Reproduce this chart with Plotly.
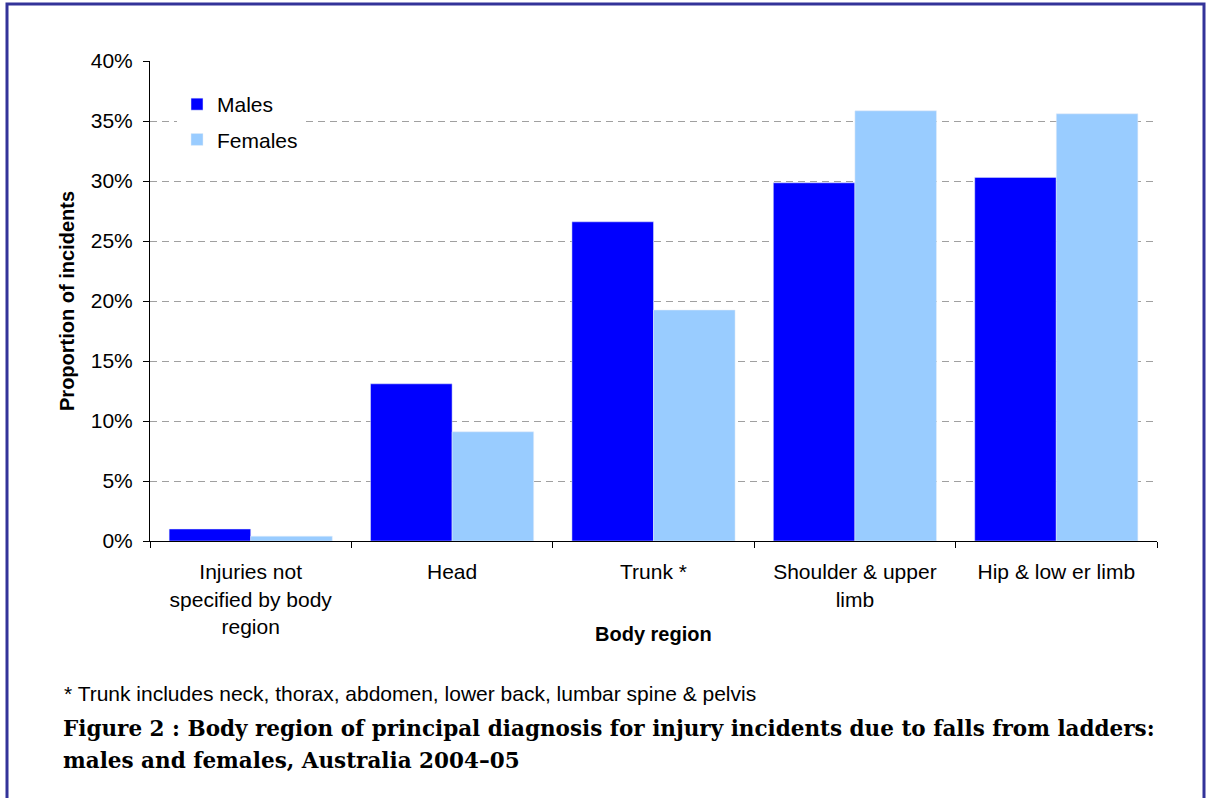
import plotly.graph_objects as go

regions = ['Injuries not<br>specified by body<br>region', 'Head', 'Trunk *',
           'Shoulder & upper<br>limb', 'Hip & low er limb']
males = [1.0, 13.1, 26.6, 29.85, 30.3]
females = [0.4, 9.1, 19.25, 35.85, 35.6]
yTicks = [0, 5, 10, 15, 20, 25, 30, 35, 40]

footnote = '* Trunk includes neck, thorax, abdomen, lower back, lumbar spine & pelvis'
captionLines = ['Figure 2 : Body region of principal diagnosis for injury incidents due to falls from ladders:',
                'males and females, Australia 2004\u201305']

sans = 'Liberation Sans, Arial, sans-serif'
serif = 'DejaVu Serif, serif'

# plot area in pixels, used to turn page positions into paper coords
L, R, T, B = 150, 1157, 61, 541


def px(x):
    return (x - L) / (R - L)


def py(y):
    return (B - y) / (B - T)


fig = go.Figure()
fig.add_trace(go.Bar(x=regions, y=males, name='Males', marker_color='#0000FF',
                     legendgroup='m'))
fig.add_trace(go.Bar(x=regions, y=females, name='Females', marker_color='#99CCFF',
                     legendgroup='f'))

fig.update_layout(
    width=1207, height=798,
    margin=dict(l=L, r=1207 - R, t=T, b=798 - B),
    paper_bgcolor='white', plot_bgcolor='white',
    font=dict(family=sans, size=21, color='black'),
    barmode='group', bargap=0.19, bargroupgap=0,
    showlegend=True,
    legend=dict(x=px(177), y=py(84), xanchor='left', yanchor='top',
                bgcolor='white', font=dict(size=21), traceorder='grouped',
                tracegroupgap=5),
    xaxis=dict(showline=True, linecolor='black', linewidth=1,
               ticks='outside', tickson='boundaries', ticklen=6, tickcolor='black',
               ticklabelstandoff=12, showgrid=False),
    yaxis=dict(range=[0, 40], tickvals=yTicks, ticktext=[f'{v}%' for v in yTicks],
               showline=True, linecolor='black', linewidth=1,
               ticks='outside', ticklen=6, tickcolor='black', ticklabelstandoff=6,
               showgrid=True, gridcolor='#A0A0A0', griddash='7px,5px', gridwidth=1,
               zeroline=False,
               title=dict(text='<b>Proportion of incidents</b>', font=dict(size=20),
                          standoff=10)),
)

# x title sits level with the last line of the tick labels
fig.add_annotation(text='<b>Body region</b>', xref='paper', yref='paper',
                   x=0.5, y=py(634), xanchor='center', yanchor='middle',
                   showarrow=False, font=dict(family=sans, size=20))
fig.add_annotation(text=footnote, xref='paper', yref='paper', x=px(62), y=py(693),
                   xanchor='left', yanchor='middle', showarrow=False,
                   font=dict(family=sans, size=21))
for i, line in enumerate(captionLines):
    fig.add_annotation(text=f'<b>{line}</b>', xref='paper', yref='paper',
                       x=px(61), y=py(728 + 32 * i), xanchor='left', yanchor='middle',
                       showarrow=False, font=dict(family=serif, size=21.5))

# frame round the whole figure
fig.add_shape(type='rect', xref='paper', yref='paper',
              x0=px(7), x1=px(1204), y0=py(810), y1=py(4),
              line=dict(color='#333399', width=3), layer='above')

fig.write_html('out.html', config={'displayModeBar': False},
               post_script="document.body.style.margin='0px';")
